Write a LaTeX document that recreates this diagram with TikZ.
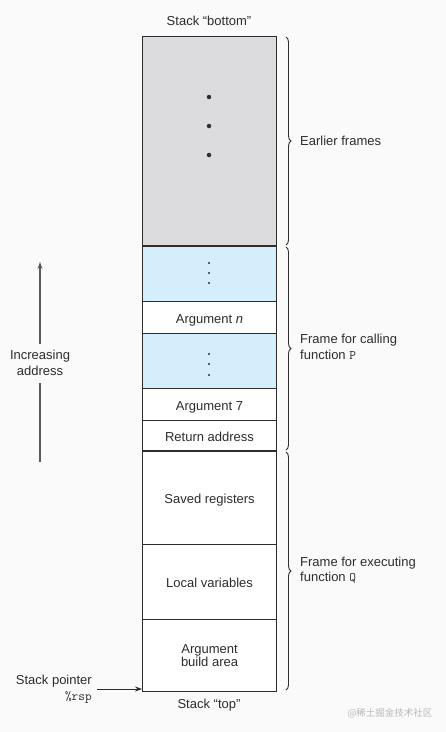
\documentclass[tikz,border=0pt]{standalone}
\usepackage{fontspec}
\setmainfont{Liberation Sans}
\newfontfamily\cjkfont{Noto Sans CJK SC}
\usetikzlibrary{decorations.pathreplacing,arrows.meta}
\definecolor{bg}{RGB}{250,250,250}
\definecolor{framegray}{RGB}{220,220,222}
\definecolor{cellblue}{RGB}{213,238,251}
\definecolor{ink}{RGB}{45,45,45}
\definecolor{arrowgray}{RGB}{90,90,90}
\begin{document}
\begin{tikzpicture}[x=1pt,y=-1pt,
  font=\fontsize{13}{15.5}\selectfont,
  cell/.style={draw=ink, line width=1.1pt, minimum width=134pt, inner sep=0pt,
    anchor=north west, text=ink, align=center, fill=white},
  onecell/.style={cell, text height=11pt, text depth=0pt},
  graycell/.style={cell, fill=framegray},
  bluecell/.style={cell, fill=cellblue},
  sep/.style={draw=ink, line width=2pt},
  bracestyle/.style={draw=ink, line width=0.9pt, decorate,
    decoration={brace, amplitude=5pt}},
  lbl/.style={text=ink, align=left, anchor=west, inner sep=0pt},
  bigdot/.style={circle, fill=ink, inner sep=0pt, minimum size=4.5pt},
  smalldot/.style={circle, fill=ink, inner sep=0pt, minimum size=2.2pt},
  tip/.style={-{Stealth[length=7pt,width=5pt]}}
]
\fill[bg] (0,0) rectangle (446,732);
\useasboundingbox (0,0) rectangle (446,732);

% cells
\node[graycell, minimum height=210pt] (c0) at (142,36) {};
\node[bluecell, minimum height=55pt] (c1) at (142,246) {};
\node[onecell, minimum height=32pt] (c2) at (142,301) {Argument \textit{n}};
\node[bluecell, minimum height=55pt] (c3) at (142,333) {};
\node[onecell, minimum height=32pt] (c4) at (142,388) {Argument 7};
\node[onecell, minimum height=31pt] (c5) at (142,420) {Return address};
\node[onecell, minimum height=93pt] (c6) at (142,451) {Saved registers};
\node[onecell, minimum height=75pt] (c7) at (142,544) {Local variables};
\node[cell, minimum height=72pt] (c8) at (142,619) {Argument\\[-2pt]build area};

% thick frame separators
\draw[sep] (c1.north west) -- (c1.north east);
\draw[sep] (c6.north west) -- (c6.north east);

% dots
\node[bigdot] (d1) at (209,97) {};
\node[bigdot] (d2) at (209,126) {};
\node[bigdot] (d3) at (209,155) {};
\node[smalldot] (e1) at (209,263) {};
\node[smalldot] (e2) at (209,273) {};
\node[smalldot] (e3) at (209,283) {};
\node[smalldot] (f1) at (209,354) {};
\node[smalldot] (f2) at (209,364) {};
\node[smalldot] (f3) at (209,375) {};

% titles
\node[text=ink] (bottom) at (209,21) {Stack “bottom”};
\node[text=ink] (top) at (209,705) {Stack “top”};

% braces
\coordinate (b1s) at (286,37);
\coordinate (b1e) at (286,245);
\coordinate (b2s) at (286,247);
\coordinate (b2e) at (286,450);
\coordinate (b3s) at (286,452);
\coordinate (b3e) at (286,690);
\draw[bracestyle] (b1s) -- (b1e);
\draw[bracestyle] (b2s) -- (b2e);
\draw[bracestyle] (b3s) -- (b3e);

\node[lbl] (l1) at (300,141) {Earlier frames};
\node[lbl] (l2) at (300,347) {Frame for calling\\function \texttt{P}};
\node[lbl] (l3) at (300,570) {Frame for executing\\function \texttt{Q}};

% increasing address
\node[text=ink, align=center, inner sep=0pt] (inc) at (40,363) {Increasing\\address};
\coordinate (incbot) at (40,462);
\coordinate (inctop) at (40,262);
\draw[arrowgray, line width=1.4pt] (incbot) -- ([yshift=-7pt]inc.south);
\draw[arrowgray, line width=1.4pt, tip] ([yshift=6pt]inc.north) -- (inctop);

% stack pointer
\node[text=ink, align=right, anchor=east, inner sep=0pt] (sp) at (92,689) {Stack pointer\\\texttt{\%rsp}};
\coordinate (spend) at (142,689);
\draw[ink, line width=0.9pt, tip] ([xshift=5pt]sp.east) -- (spend);

% watermark
\node[text={rgb,255:red,185;green,185;blue,185}, font=\cjkfont\fontsize{9.5}{11}\selectfont] (wm) at (390,713) {@稀土掘金技术社区};
\end{tikzpicture}
\end{document}
